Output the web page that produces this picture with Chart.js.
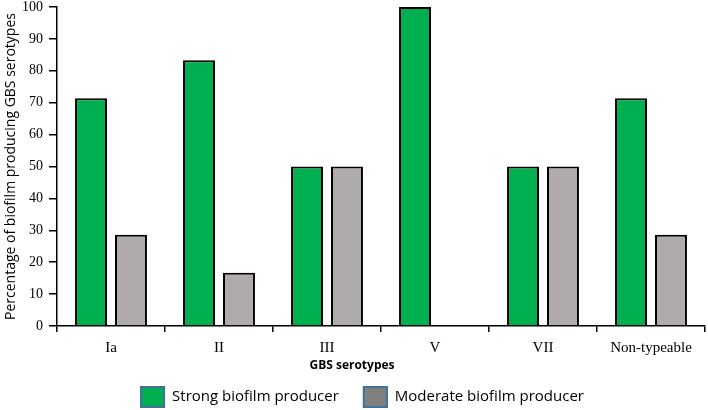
<!DOCTYPE html>
<html>
<head>
<meta charset="utf-8">
<script src="https://cdn.jsdelivr.net/npm/chart.js@4.4.1/dist/chart.umd.min.js"></script>
<style>
  html, body { margin: 0; padding: 0; background: #fff; }
  #wrap { width: 708px; height: 410px; position: relative; }
</style>
</head>
<body>
<div id="wrap"><canvas id="c" width="708" height="410"></canvas></div>
<script>
const categories = ['Ia', 'II', 'III', 'V', 'VII', 'Non-typeable'];
const strongValues = [71.4, 83.3, 50, 100, 50, 71.4];
const moderateValues = [28.6, 16.7, 50, 0, 50, 28.6];
const seriesLabels = ['Strong biofilm producer', 'Moderate biofilm producer'];
const xAxisTitle = 'GBS serotypes';
const yAxisTitle = 'Percentage of biofilm producing GBS serotypes';
const yTicks = [0, 10, 20, 30, 40, 50, 60, 70, 80, 90, 100];

const legendSwatches = ['#00B050', '#808080'];

const customLegend = {
  id: 'customLegend',
  afterDraw(chart) {
    const ctx = chart.ctx;
    ctx.save();
    // x-axis title, centred on the canvas like the reference
    ctx.font = 'bold 12px "Open Sans", sans-serif';
    ctx.fillStyle = '#000';
    ctx.textAlign = 'center';
    ctx.textBaseline = 'middle';
    ctx.fillText(xAxisTitle, 352, 366);

    ctx.font = '15px "Open Sans", sans-serif';
    const boxW = 25, boxH = 22, textGap = 7, itemGap = 24;
    const widths = seriesLabels.map(t => ctx.measureText(t).width);
    const total = widths.reduce((a, w) => a + boxW + textGap + w, 0) + itemGap * (seriesLabels.length - 1);
    let x = 362 - total / 2;
    const yTop = 386;
    seriesLabels.forEach((t, i) => {
      ctx.fillStyle = legendSwatches[i];
      ctx.fillRect(x, yTop, boxW, boxH);
      ctx.strokeStyle = '#41719C';
      ctx.lineWidth = 2;
      ctx.strokeRect(x + 1, yTop + 1, boxW - 2, boxH - 2);
      ctx.fillStyle = '#000';
      ctx.textBaseline = 'middle';
      ctx.textAlign = 'left';
      ctx.fillText(t, x + boxW + textGap, yTop + boxH / 2);
      x += boxW + textGap + widths[i] + itemGap;
    });
    ctx.restore();
  }
};

new Chart(document.getElementById('c'), {
  type: 'bar',
  data: {
    labels: categories,
    datasets: [
      {
        label: seriesLabels[0],
        data: strongValues,
        backgroundColor: '#00B050',
        borderColor: '#000',
        borderWidth: 2,
        borderSkipped: 'bottom',
        categoryPercentage: 0.74,
        barPercentage: 0.8
      },
      {
        label: seriesLabels[1],
        data: moderateValues,
        backgroundColor: '#AFABAB',
        borderColor: '#000',
        borderWidth: 2,
        borderSkipped: 'bottom',
        categoryPercentage: 0.74,
        barPercentage: 0.8
      }
    ]
  },
  options: {
    responsive: false,
    animation: false,
    devicePixelRatio: 1,
    layout: { padding: { left: 0, right: 3, top: 7, bottom: 34 } },
    plugins: {
      legend: { display: false },
      tooltip: { enabled: false }
    },
    scales: {
      x: {
        offset: true,
        grid: {
          display: true,
          offset: true,
          drawOnChartArea: false,
          drawTicks: true,
          tickLength: 6,
          color: '#000',
          lineWidth: 1.5
        },
        border: { display: true, color: '#000', width: 1.5 },
        ticks: {
          color: '#000',
          padding: 7,
          font: { family: '"Liberation Serif", "Times New Roman", serif', size: 15 }
        },
        title: { display: false },
        afterFit(scale) { scale.height = 50; scale.paddingLeft = 0; scale.paddingRight = 0; }
      },
      y: {
        min: 0,
        max: 100,
        afterBuildTicks(scale) { scale.ticks = yTicks.map(v => ({ value: v })); },
        grid: {
          display: true,
          drawOnChartArea: false,
          drawTicks: true,
          tickLength: 8,
          color: '#000',
          lineWidth: 1.5
        },
        border: { display: true, color: '#000', width: 1.5 },
        ticks: {
          color: '#000',
          padding: 6,
          font: { family: '"Liberation Serif", "Times New Roman", serif', size: 14 }
        },
        title: {
          display: true,
          text: yAxisTitle,
          color: '#000',
          font: { family: '"Open Sans", sans-serif', size: 14 },
          padding: { top: 3, bottom: 4 }
        },
        afterFit(scale) { scale.width = 57; scale.paddingTop = 0; scale.paddingBottom = 0; }
      }
    }
  },
  plugins: [customLegend]
});
</script>
</body>
</html>
